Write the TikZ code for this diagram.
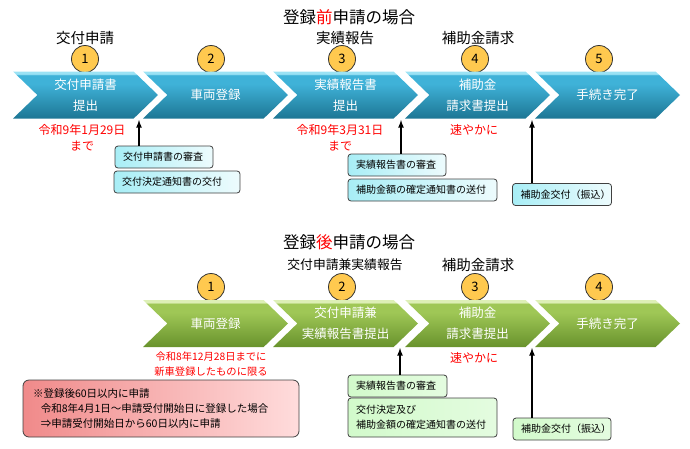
\documentclass[tikz,border=0pt]{standalone}
\usepackage{fontspec}
\setmainfont{Noto Sans CJK JP}
\usepackage{xcolor}
\usepackage{tikz}
\usetikzlibrary{shapes,arrows,positioning,fit,backgrounds}

\definecolor{bluebot}{HTML}{1D7694}
\definecolor{bluetop}{HTML}{3FB2D8}
\definecolor{bluehi}{HTML}{9BE2F4}
\definecolor{greenbot}{HTML}{68922C}
\definecolor{greentop}{HTML}{9FC756}
\definecolor{greenhi}{HTML}{DDEFB6}
\definecolor{numfill}{HTML}{FFC94F}
\definecolor{taskcyan}{HTML}{A8EEF6}
\definecolor{taskgreen}{HTML}{D2FACB}
\definecolor{notepink}{HTML}{F08A8A}
\definecolor{notelight}{HTML}{FFDCDC}

\pgfdeclareverticalshading{chevblue}{100bp}{color(0bp)=(bluebot); color(25bp)=(bluebot);
  color(62bp)=(bluetop); color(71bp)=(bluetop); color(72.5bp)=(bluehi); color(100bp)=(bluehi)}
\pgfdeclareverticalshading{chevgreen}{100bp}{color(0bp)=(greenbot); color(25bp)=(greenbot);
  color(62bp)=(greentop); color(71bp)=(greentop); color(72.5bp)=(greenhi); color(100bp)=(greenhi)}

\begin{document}
\begin{tikzpicture}[
    x=1pt, y=-1pt,
    chevron/.style={signal, signal from=west, signal to=east, signal pointer angle=88,
        minimum width=145pt, minimum height=47pt, inner sep=0pt, text=white,
        align=center, font=\fontsize{12.5}{21}\selectfont},
    bluechev/.style={chevron, shading=chevblue},
    greenchev/.style={chevron, shading=chevgreen},
    num/.style={circle, draw=black!80, thick, fill=numfill, minimum size=27pt,
        inner sep=0pt, font=\fontsize{13}{13}\selectfont},
    head/.style={font=\fontsize{14.5}{16}\selectfont},
    title/.style={font=\fontsize{16.5}{18}\selectfont},
    due/.style={text=red, align=center, font=\fontsize{12}{16}\selectfont},
    task/.style={draw=black!75, thick, rounded corners=3pt, align=left, minimum height=22pt,
        inner xsep=8pt, font=\fontsize{10}{15}\selectfont},
    bluetask/.style={task, left color=taskcyan, right color=taskcyan!20},
    greentask/.style={task, left color=taskgreen, right color=taskgreen!60},
    up/.style={->, >=latex, line width=1.6pt}
]
    \useasboundingbox (0,0) rectangle (690,448);

    % Before registration
    \node[title] (title1) at (349,17) {登録\textcolor{red}{前}申請の場合};
    \node[head] (head1) at (85,38) {交付申請};
    \node[head] (head3) at (345,38) {実績報告};
    \node[head] (head4) at (478,38) {補助金請求};

    \node[num] (n1) at (85,59) {1};
    \node[num] (n2) at (211,59) {2};
    \node[num] (n3) at (342,59) {3};
    \node[num] (n4) at (475,59) {4};
    \node[num] (n5) at (599,59) {5};

    \node[bluechev] (apply) at (85.5,95) {交付申請書\\提出};
    \node[bluechev] (register) at (215.5,95) {車両登録};
    \node[bluechev] (report) at (345.5,95) {実績報告書\\提出};
    \node[bluechev] (claim) at (477.5,95) {補助金\\請求書提出};
    \node[bluechev] (done) at (607.5,95) {手続き完了};

    \node[due] (due1) at (82,138) {令和9年1月29日\\まで};
    \node[due] (due3) at (340,138) {令和9年3月31日\\まで};
    \node[due] (due4) at (474,130) {速やかに};

    \node[bluetask, text width=82pt] (check1) at (164,157) {交付申請書の審査};
    \node[bluetask, text width=110pt] (decide1) at (177,182) {交付決定通知書の交付};
    \node[bluetask, text width=82pt] (check2) at (397,165) {実績報告書の審査};
    \node[bluetask, text width=133pt] (fix1) at (422.5,190) {補助金額の確定通知書の送付};
    \node[bluetask, text width=83pt] (pay1) at (562,194.5) {補助金交付（振込）};

    \coordinate (gap1) at (139,120);
    \coordinate (gap2) at (401,120);
    \coordinate (gap3) at (532,120);
    \draw[up] (check1.north -| gap1) -- (gap1);
    \draw[up] (check2.north -| gap2) -- (gap2);
    \draw[up] (pay1.north -| gap3) -- (gap3);

    % After registration
    \node[title] (title2) at (349,242) {登録\textcolor{red}{後}申請の場合};
    \node[head, font=\fontsize{12.8}{15}\selectfont] (head2b) at (345,265) {交付申請兼実績報告};
    \node[head] (head3b) at (478,265) {補助金請求};

    \node[num] (m1) at (211,287) {1};
    \node[num] (m2) at (342,287) {2};
    \node[num] (m3) at (475,287) {3};
    \node[num] (m4) at (599,287) {4};

    \node[greenchev] (register2) at (215.5,323.5) {車両登録};
    \node[greenchev] (applyreport) at (345.5,323.5) {交付申請兼\\実績報告書提出};
    \node[greenchev] (claim2) at (477.5,323.5) {補助金\\請求書提出};
    \node[greenchev] (done2) at (607.5,323.5) {手続き完了};

    \node[due, font=\fontsize{10.3}{15}\selectfont] (due5) at (211,364.5)
        {令和8年12月28日までに\\新車登録したものに限る};
    \node[due] (due6) at (474,358) {速やかに};

    \node[draw=black!75, thick, rounded corners=6pt, left color=notepink, right color=notelight,
        minimum width=276pt, minimum height=57pt, text width=256pt, inner xsep=10pt,
        align=left, font=\fontsize{10.5}{15}\selectfont] (note) at (161,408.5)
        {※登録後60日以内に申請\\
         \hspace*{0.75em}令和8年4月1日～申請受付開始日に登録した場合\\
         \hspace*{0.75em}⇒申請受付開始日から60日以内に申請};

    \node[greentask, text width=83pt] (check3) at (397.5,386) {実績報告書の審査};
    \node[greentask, text width=133pt, minimum height=39pt] (fix2) at (422.5,417.5)
        {交付決定及び\\補助金額の確定通知書の送付};
    \node[greentask, text width=82pt] (pay2) at (562,429) {補助金交付（振込）};

    \coordinate (gap4) at (400,348);
    \coordinate (gap5) at (532,348);
    \draw[up] (check3.north -| gap4) -- (gap4);
    \draw[up] (pay2.north -| gap5) -- (gap5);
\end{tikzpicture}
\end{document}
